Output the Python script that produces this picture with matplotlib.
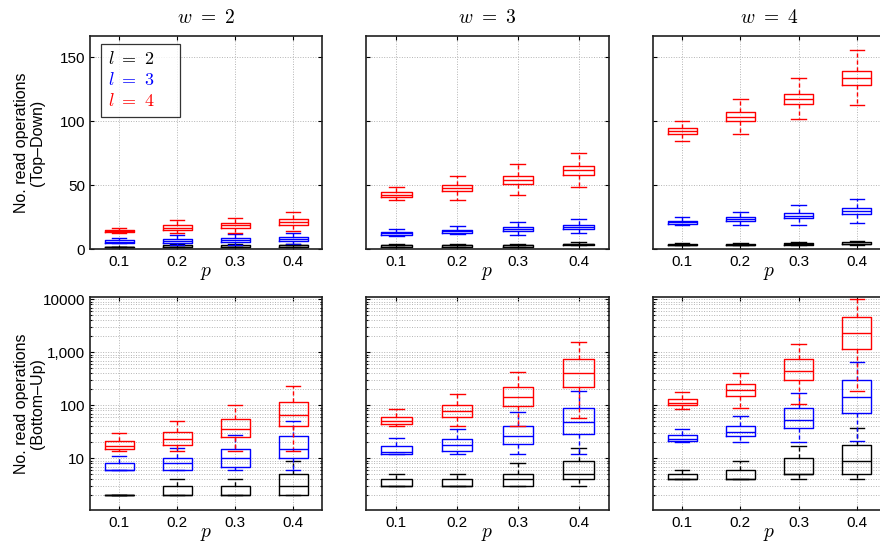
import matplotlib
matplotlib.use("Agg")
import matplotlib.pyplot as plt
from matplotlib.lines import Line2D
from matplotlib.ticker import FixedLocator, FixedFormatter, LogLocator, NullFormatter

plt.rcParams['font.family'] = ['Liberation Sans', 'DejaVu Sans']
plt.rcParams['mathtext.fontset'] = 'cm'

# ---------------- data ----------------
p_labels = ['0.1', '0.2', '0.3', '0.4']
w_values = [2, 3, 4]
l_values = [2, 3, 4]
l_colors = ['#000000', '#0000ff', '#ff0000']

# each entry: (whisker low, q1, median, q3, whisker high) for p = 0.1 .. 0.4
# Top-Down
TD_W2_L2 = [(2, 2, 2, 2, 2), (2, 2, 2, 3, 4), (2, 2, 2, 3, 4), (2, 2, 3, 3, 4)]
TD_W2_L3 = [(5, 5, 6, 7, 8.5), (3, 5, 6.5, 8.3, 11), (3, 5.5, 7, 8.8, 12.2), (4, 6.5, 8.2, 9.6, 13)]
TD_W2_L4 = [(13, 13.5, 14.5, 15.4, 16.5), (13, 14.8, 16.4, 18.7, 22.7), (13, 17, 18.8, 20.5, 24.7), (14, 19.3, 21.6, 23.4, 29.4)]
TD_W3_L2 = [(2, 2, 3, 3, 4), (2, 2, 3, 3, 4), (2, 2, 3, 3, 4), (3, 3, 4, 4.5, 5.5)]
TD_W3_L3 = [(10.7, 11.2, 12.5, 13.5, 16.1), (11.7, 13, 14, 15.4, 18.5), (11.5, 14.3, 16, 17.4, 21.6), (13, 15.9, 17.7, 19.3, 23.4)]
TD_W3_L4 = [(38.3, 40.9, 42.7, 44.5, 48.4), (38.3, 45.3, 47.9, 50.5, 57.6), (42.4, 51.3, 54.4, 57.6, 66.7), (48.4, 58.4, 61.7, 65.4, 75.5)]
TD_W4_L2 = [(3, 3, 3.5, 4, 4.7), (3, 3, 3.5, 4, 5), (3, 3.5, 4, 5, 6), (3, 4, 4.5, 5.5, 6.5)]
TD_W4_L3 = [(19.3, 20, 21.2, 22.4, 25.2), (19.3, 22.1, 23.6, 25.2, 29.4), (19.3, 24.2, 26.3, 28.6, 34.4), (20.3, 27.3, 30, 32.6, 39.3)]
TD_W4_L4 = [(84.4, 90.4, 92.7, 94.5, 100.5), (90.4, 100.3, 103.6, 107.6, 117.4), (101.6, 113.3, 117.4, 121.6, 133.6), (112.5, 128.7, 133.6, 139.3, 155.5)]
# Bottom-Up
BU_W2_L2 = [(2, 2, 2, 2, 2), (2, 2, 2, 3, 4), (2, 2, 2, 3, 4), (2, 2, 3, 5, 9)]
BU_W2_L3 = [(6, 6, 6, 8, 11), (6, 6, 8, 10, 16), (6, 7, 10, 15, 27), (6, 10, 15, 26, 50)]
BU_W2_L4 = [(14, 15, 17, 21, 30), (14, 18, 23, 31, 50), (14, 25, 36, 55, 100), (14, 41, 66, 117, 231)]
BU_W3_L2 = [(3, 3, 3, 4, 5), (3, 3, 3, 4, 5), (3, 3, 4, 5, 8), (3, 4, 5, 9, 16)]
BU_W3_L3 = [(12, 12, 13, 17, 24), (12, 14, 18, 23, 36.5), (12, 19, 26.5, 41, 74), (12, 29, 49, 91, 183)]
BU_W3_L4 = [(40, 44, 50, 61, 86), (40, 61, 78, 101, 161), (41, 98, 141, 225, 420), (57, 225, 407, 762, 1600)]
BU_W4_L2 = [(4, 4, 4, 5, 6), (4, 4, 4, 6, 9), (4, 5, 5, 10, 17), (4, 5, 9, 18, 38)]
BU_W4_L3 = [(20.6, 21, 23.6, 27, 36), (20, 26, 31.6, 41, 63.5), (20, 37, 54, 91, 170), (21, 73, 141, 300, 650)]
BU_W4_L4 = [(86, 100, 110, 133, 178), (90, 149, 194, 252, 407), (107, 300, 452, 750, 1440), (189, 1145, 2300, 4680, 10000)]

top_down = [[TD_W2_L2, TD_W2_L3, TD_W2_L4],
            [TD_W3_L2, TD_W3_L3, TD_W3_L4],
            [TD_W4_L2, TD_W4_L3, TD_W4_L4]]
bottom_up = [[BU_W2_L2, BU_W2_L3, BU_W2_L4],
             [BU_W3_L2, BU_W3_L3, BU_W3_L4],
             [BU_W4_L2, BU_W4_L3, BU_W4_L4]]

log_ticks = [10, 100, 1000, 10000]
log_tick_labels = ['10', '100', '1,000', '10000']
lin_ticks = [0, 50, 100, 150]

# ---------------- layout ----------------
W, H = 880, 547
fig = plt.figure(figsize=(W / 100, H / 100), dpi=100)
cols = [(90, 322), (366, 609), (653, 886)]
rows = [(35.7, 249.3), (296.7, 510.3)]


def rect(c, r):
    x0, x1 = c
    yt, yb = r
    return [x0 / W, 1 - yb / H, (x1 - x0) / W, (yb - yt) / H]


grid_kw = dict(color='#b4b4b4', linestyle=(0, (1, 1.6)), linewidth=0.7)


def draw_boxes(ax, panel):
    positions = list(range(1, len(p_labels) + 1))
    for series, col in zip(panel, l_colors):
        stats = [dict(whislo=s[0], q1=s[1], med=s[2], q3=s[3], whishi=s[4], fliers=[])
                 for s in series]
        ax.bxp(stats, positions=positions, widths=0.5, showfliers=False,
               boxprops=dict(color=col, linewidth=1.0),
               medianprops=dict(color=col, linewidth=1.0),
               whiskerprops=dict(color=col, linewidth=1.0, linestyle=(0, (3, 2))),
               capprops=dict(color=col, linewidth=1.0),
               manage_ticks=False)
    ax.set_xlim(0.5, 4.5)
    ax.set_xticks(positions)
    ax.set_xticklabels(p_labels)


for ri, (data, is_log) in enumerate([(top_down, False), (bottom_up, True)]):
    for ci in range(3):
        ax = fig.add_axes(rect(cols[ci], rows[ri]))
        ax.set_axisbelow(True)
        if is_log:
            ax.set_yscale('log')
        draw_boxes(ax, data[ci])
        if is_log:
            ax.set_ylim(10 ** 0.02, 10 ** 4.05)
            ax.yaxis.set_major_locator(FixedLocator(log_ticks))
            ax.yaxis.set_major_formatter(FixedFormatter(log_tick_labels))
            ax.yaxis.set_minor_locator(LogLocator(base=10, subs=range(2, 10)))
            ax.yaxis.set_minor_formatter(NullFormatter())
            ax.grid(True, which='both', axis='y', **grid_kw)
            ax.grid(True, which='major', axis='x', **grid_kw)
        else:
            ax.set_ylim(0, 167)
            ax.set_yticks(lin_ticks)
            ax.grid(True, which='major', **grid_kw)
        ax.tick_params(which='both', direction='in', top=True, right=True,
                       labelsize=11, width=0.8, color='k')
        ax.tick_params(which='major', length=3)
        ax.tick_params(which='minor', length=1.5)
        ax.tick_params(axis='x', pad=4)
        for sp in ax.spines.values():
            sp.set_linewidth(1.2)
            sp.set_color('#202020')
        ax.set_xlabel('$p$', fontsize=14, labelpad=-3)
        if ci > 0:
            ax.tick_params(labelleft=False)
        if ri == 0:
            ax.set_title(r'$w\ =\ %d$' % w_values[ci], fontsize=14, pad=9)
        if ci == 0:
            lab = 'No. read operations\n(Top\u2013Down)' if ri == 0 else 'No. read operations\n(Bottom\u2013Up)'
            ax.set_ylabel(lab, fontsize=11.5, linespacing=1.05)
            ax.yaxis.set_label_coords(-0.195, 0.5)
        if ri == 0 and ci == 0:
            handles = [Line2D([], [], color='none') for _ in l_values]
            leg = ax.legend(handles, [r'$l\ =\ %d$' % l for l in l_values],
                            loc='upper left', bbox_to_anchor=(0.046, 0.961),
                            borderaxespad=0, fontsize=13, frameon=True, fancybox=False,
                            edgecolor='k', markerfirst=False, handlelength=0.9,
                            handletextpad=0.1, labelspacing=0.22, borderpad=0.4)
            leg.get_frame().set_linewidth(0.9)
            for t, c in zip(leg.get_texts(), l_colors):
                t.set_color(c)

fig.savefig('out.png', dpi=100)
